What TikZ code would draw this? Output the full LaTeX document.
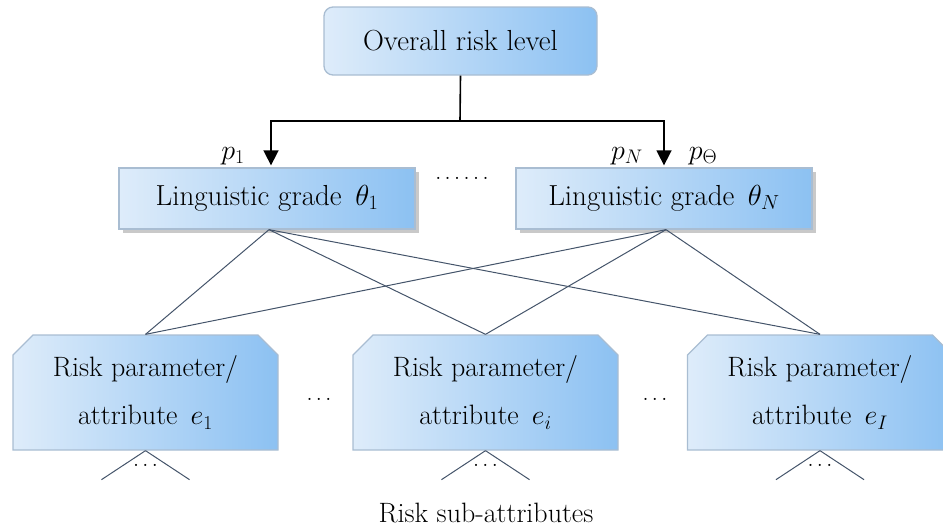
\RequirePackage{fix-cm}
\documentclass[tikz,border=0pt]{standalone}
\usetikzlibrary{arrows.meta,shapes.misc,shadows,positioning}

\definecolor{boxleft}{HTML}{DEECFA}
\definecolor{boxright}{HTML}{8CC1F2}
\definecolor{boxline}{HTML}{A9BDD2}
\definecolor{linkline}{HTML}{44546A}

\newcommand{\threedots}{.\hspace{3pt}.\hspace{3pt}.}

\tikzset{
  box/.style={draw=boxline, line width=1.3pt, left color=boxleft, right color=boxright,
    font=\fontsize{29}{48}\selectfont, align=center, inner sep=0pt},
  topbox/.style={box, rounded corners=9pt, minimum width=273pt, minimum height=68pt},
  gradebox/.style={box, minimum width=296pt, minimum height=61pt,
    drop shadow={shadow xshift=4pt, shadow yshift=-4pt, opacity=.3, fill=black!70}},
  parambox/.style={box, font=\fontsize{28}{48}\selectfont, chamfered rectangle,
    chamfered rectangle corners={north west,north east},
    chamfered rectangle sep=10pt, minimum width=265pt, minimum height=115pt},
  link/.style={draw=linkline, line width=1pt},
  arrowline/.style={draw=black, line width=1.6pt, -{Triangle[width=15pt,length=15pt]}},
  lbl/.style={font=\fontsize{28}{32}\selectfont, inner sep=0pt},
  gap/.style={font=\fontsize{26}{28}\selectfont, inner sep=0pt}
}

\begin{document}
\begin{tikzpicture}[x=1pt,y=-1pt]
   \useasboundingbox (0,0) rectangle (943,530);

   \node[topbox] (top) at (460.5,41) {Overall risk level};

   \node[gradebox] (lg1) at (267,198.5) {Linguistic grade \,$\theta_1$};
   \node[gradebox] (lgN) at (664,198.5) {Linguistic grade \,$\theta_N$};

   \node[parambox] (pa1) at (145.5,392.5) {Risk parameter/\\attribute \,$e_1$};
   \node[parambox] (pai) at (485.5,392.5) {Risk parameter/\\attribute \,$e_i$};
   \node[parambox] (paI) at (820,392.5) {Risk parameter/\\attribute \,$e_I$};

   % links between grades and attributes
   \foreach \a in {lg1,lgN}
   \foreach \b in {pa1,pai,paI}
   \draw[link] ([xshift=2pt]\a.south) -- (\b.north);

   % arrows to the grades
   \draw[arrowline, -] (top.south) -- (460,121) coordinate (split);
   \draw[arrowline, shorten >=2pt] (split) -| ([xshift=4pt]lg1.north);
   \draw[arrowline, shorten >=2pt] (split) -| (lgN.north);

   \node[lbl] (p1) at (233,156) {$p_1$};
   \node[lbl] (pN) at (627,156) {$p_N$};
   \node[lbl] (pT) at (703,156) {$p_\Theta$};

   \node[gap] (g0) at (462,178) {\threedots\hspace{3pt}\threedots};
   \node[gap] (g1) at (319,399) {\threedots};
   \node[gap] (g2) at (655,399) {\threedots};

   % sub-attributes
   \foreach \b in {pa1,pai,paI}
   {
      \draw[link] (\b.south) -- ++(-44,29);
      \draw[link] (\b.south) -- ++(44,29);
      \node[gap] (s\b) at ([yshift=-15pt]\b.south) {\threedots};
   }

   \node[font=\fontsize{28}{30}\selectfont] (sub) at (486,513) {Risk sub-attributes};

\end{tikzpicture}
\end{document}
